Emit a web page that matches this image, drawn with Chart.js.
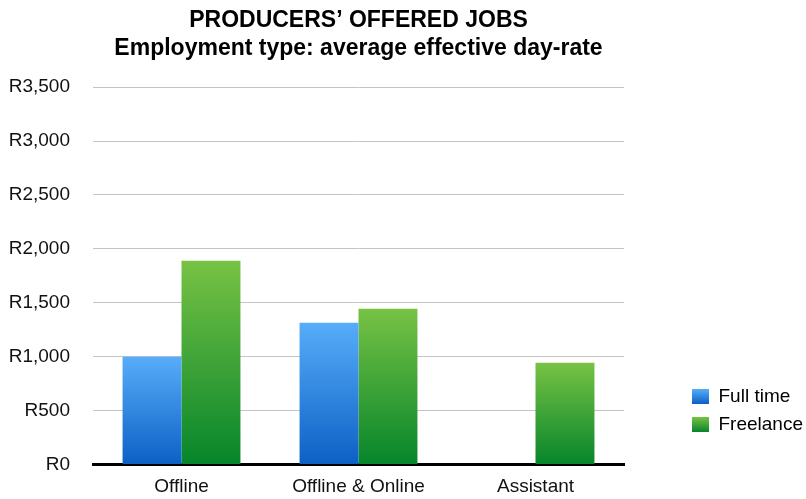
<!DOCTYPE html>
<html>
<head>
<meta charset="utf-8">
<script src="https://cdn.jsdelivr.net/npm/chart.js@4"></script>
<style>
  html, body { margin: 0; padding: 0; background: #fff; }
  #wrap { width: 806px; height: 499px; }
</style>
</head>
<body>
<div id="wrap"><canvas id="jobsChart" width="806" height="499"></canvas></div>
<script>
const categories = ['Offline', 'Offline & Online', 'Assistant'];
const fullTime = [1000, 1315, null];
const freelance = [1890, 1445, 945];
const seriesNames = ['Full time', 'Freelance'];
const titleLines = ['PRODUCERS\u2019 OFFERED JOBS', 'Employment type: average effective day-rate'];

const blueTop = '#57adf9', blueBottom = '#0c60c5';
const greenTop = '#77c244', greenBottom = '#06852b';

// vertical gradient per bar, from its top down to zero
function barGradient(top, bottom) {
    return function(c) {
        const chart = c.chart;
        const y = chart.scales.y;
        if (!chart.chartArea || !y || c.raw == null) return bottom;
        const y0 = y.getPixelForValue(c.raw);
        const y1 = y.getPixelForValue(0);
        const g = chart.ctx.createLinearGradient(0, y0, 0, y1);
        g.addColorStop(0, top);
        g.addColorStop(1, bottom);
        return g;
    };
}

function boxGradient(ctx, y0, top, bottom) {
    const g = ctx.createLinearGradient(0, y0, 0, y0 + 15);
    g.addColorStop(0, top);
    g.addColorStop(1, bottom);
    return g;
}

// move the legend to the lower right, like the original
const legendPlace = {
    id: 'legendPlace',
    afterLayout(chart) {
        const lg = chart.legend;
        const w = lg.right - lg.left;
        const h = lg.bottom - lg.top;
        lg.left = 683;
        lg.right = lg.left + w;
        lg.top = 378;
        lg.bottom = lg.top + h;
    }
};

const font19 = { family: "'Liberation Sans', Arial, sans-serif", size: 19 };

const ctx = document.getElementById('jobsChart').getContext('2d');
const jobsChart = new Chart(ctx, {
    type: 'bar',
    data: {
        labels: categories,
        datasets: [{
            label: seriesNames[0],
            data: fullTime,
            backgroundColor: barGradient(blueTop, blueBottom),
            borderWidth: 0
        }, {
            label: seriesNames[1],
            data: freelance,
            backgroundColor: barGradient(greenTop, greenBottom),
            borderWidth: 0
        }]
    },
    options: {
        responsive: false,
        animation: false,
        devicePixelRatio: 1,
        layout: { padding: { left: 8, right: 52, top: 7, bottom: 0 } },
        datasets: {
            bar: { categoryPercentage: 0.666, barPercentage: 1.0 }
        },
        scales: {
            x: {
                grid: { display: false, drawTicks: false },
                border: { display: true, color: '#000', width: 3 },
                afterFit: function(scale) { scale.height = 34; },
                ticks: { color: '#111', padding: 11, font: font19 }
            },
            y: {
                min: 0,
                max: 3500,
                border: { display: false },
                grid: { color: '#c4c4c4', lineWidth: 1, drawTicks: false },
                afterFit: function(scale) { scale.width = 85; },
                ticks: {
                    stepSize: 500,
                    color: '#111',
                    padding: 23,
                    font: font19,
                    callback: function(v) { return 'R' + v.toLocaleString('en-US'); }
                }
            }
        },
        plugins: {
            title: {
                display: true,
                text: titleLines,
                color: '#000',
                fullSize: false,
                padding: { top: 0, bottom: 24 },
                font: { family: "'Liberation Sans', Arial, sans-serif", size: 23, weight: 'bold', lineHeight: 1.22 }
            },
            legend: {
                position: 'right',
                align: 'start',
                labels: {
                    color: '#111',
                    boxWidth: 17,
                    boxHeight: 15,
                    padding: 9,
                    font: font19,
                    generateLabels: function(chart) {
                        const c = chart.ctx;
                        return [
                            { text: seriesNames[0], fillStyle: boxGradient(c, 389, blueTop, blueBottom), lineWidth: 0, strokeStyle: 'rgba(0,0,0,0)', datasetIndex: 0 },
                            { text: seriesNames[1], fillStyle: boxGradient(c, 417, greenTop, greenBottom), lineWidth: 0, strokeStyle: 'rgba(0,0,0,0)', datasetIndex: 1 }
                        ];
                    }
                }
            },
            tooltip: { enabled: false }
        }
    },
    plugins: [legendPlace]
});
</script>
</body>
</html>
